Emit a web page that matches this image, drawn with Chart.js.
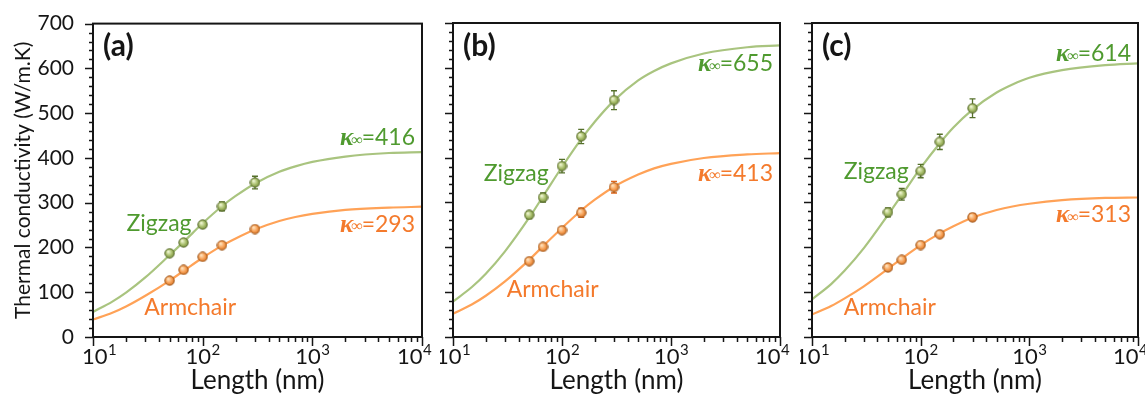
<!DOCTYPE html>
<html>
<head>
<meta charset="utf-8">
<script src="https://cdn.jsdelivr.net/npm/chart.js@4.4.1/dist/chart.umd.min.js"></script>
<style>
  body { margin: 0; background: #fff; }
  canvas { position: absolute; top: 0; }
</style>
</head>
<body>
<canvas id="chartA" width="440" height="394" style="left:0px"></canvas>
<canvas id="chartB" width="360" height="394" style="left:440px"></canvas>
<canvas id="chartC" width="345" height="394" style="left:800px"></canvas>
<script>
// simulated lengths (nm)
const lengths = [50, 67, 100, 150, 300];
const fitLengths = [10, 15, 20, 30, 50, 70, 100, 150, 200, 300, 500, 700, 1000, 2000, 5000, 10000];

// (a)
const zigzagA = [187, 211, 251, 292, 345];
const zigzagErrA = [4, 5, 6, 10, 14];
const armchairA = [126, 150, 179, 205, 241];
const armchairErrA = [3, 3, 4, 5, 6];
const zigzagFitA = [56, 79, 99, 133, 183, 217, 254, 292, 315, 343, 369, 381, 391, 403, 411, 413];
const armchairFitA = [39, 54, 68, 92, 126, 151, 177, 204, 220, 240, 259, 268, 275, 284, 289, 291];
const kappaA = [416, 293];

// (b)
const zigzagB = [272, 311, 381, 447, 528];
const zigzagErrB = [8, 10, 15, 16, 21];
const armchairB = [169, 201, 238, 277, 334];
const armchairErrB = [4, 4, 5, 10, 13];
const zigzagFitB = [79, 112, 141, 191, 266, 321, 379, 441, 480, 527, 572, 593, 610, 632, 646, 650];
const armchairFitB = [52, 73, 92, 124, 172, 207, 243, 282, 306, 335, 362, 376, 386, 399, 407, 410];
const kappaB = [655, 413];

// (c)
const zigzagC = [278, 318, 370, 435, 510];
const zigzagErrC = [10, 13, 15, 17, 21];
const armchairC = [155, 172, 205, 229, 267];
const armchairErrC = [4, 4, 5, 5, 8];
const zigzagFitC = [84, 118, 148, 198, 272, 323, 377, 432, 467, 507, 545, 563, 578, 595, 606, 610];
const armchairFitC = [50, 69, 86, 113, 152, 178, 205, 231, 247, 266, 283, 291, 297, 305, 310, 311];
const kappaC = [614, 313];

const xTickValues = [10, 100, 1000, 10000];
const xTickExponents = ["1", "2", "3", "4"];

const zigLine = "#a9c47f", armLine = "#ffa257";
const zigText = "#4f9a2f", armText = "#f47a2c";
const ink = "#151515";

function sphere(light, mid, dark, edge) {
  const c = document.createElement("canvas");
  c.width = 11; c.height = 11;
  const g = c.getContext("2d");
  const grad = g.createRadialGradient(4, 3.8, 0.5, 5.5, 5.5, 5.2);
  grad.addColorStop(0, light);
  grad.addColorStop(0.55, mid);
  grad.addColorStop(1, dark);
  g.fillStyle = grad;
  g.beginPath(); g.arc(5.5, 5.5, 4.7, 0, Math.PI * 2); g.fill();
  g.strokeStyle = edge; g.lineWidth = 0.9; g.stroke();
  return c;
}
const zigBall = sphere("#eef5d0", "#a7bd6a", "#6d8436", "#56692a");
const armBall = sphere("#ffe2bd", "#f7a055", "#c8681c", "#9a5014");

function pairs(xs, ys) {
  return xs.map((x, i) => ({ x: x, y: ys[i] }));
}

function drawKappa(ctx, xRight, y, value, color) {
  ctx.save();
  ctx.fillStyle = color;
  ctx.textBaseline = "middle";
  ctx.textAlign = "right";
  ctx.font = "23px Lato";
  const tail = "=" + value;
  ctx.fillText(tail, xRight, y);
  let x = xRight - ctx.measureText(tail).width;
  ctx.font = "italic 16px 'Liberation Serif'";
  ctx.fillText("\u221e", x + 1, y + 3);
  x -= ctx.measureText("\u221e").width;
  ctx.font = "italic bold 25px 'Liberation Serif'";
  ctx.fillText("\u03ba", x + 3, y + 1);
  ctx.restore();
}

const panelPlugin = {
  id: "panel",
  afterDatasetDraw(chart, args, opts) {
    // error bars go over the curves but under the markers
    if (args.index !== 2) return;
    const ctx = chart.ctx, xs = chart.scales.x, ys = chart.scales.y;
    const sets = [[opts.zig, opts.zigErr, "#55702a"], [opts.arm, opts.armErr, "#e0661a"]];
    ctx.save();
    ctx.lineWidth = 1.3;
    sets.forEach(([vals, errs, col]) => {
      ctx.strokeStyle = col;
      lengths.forEach((L, i) => {
        const px = xs.getPixelForValue(L);
        const top = ys.getPixelForValue(vals[i] + errs[i]);
        const bot = ys.getPixelForValue(vals[i] - errs[i]);
        ctx.beginPath();
        ctx.moveTo(px, top); ctx.lineTo(px, bot);
        ctx.moveTo(px - 3, top); ctx.lineTo(px + 3, top);
        ctx.moveTo(px - 3, bot); ctx.lineTo(px + 3, bot);
        ctx.stroke();
      });
    });
    ctx.restore();
  },
  afterDraw(chart, args, opts) {
    const ctx = chart.ctx, a = chart.chartArea;
    const xs = chart.scales.x, ys = chart.scales.y;
    ctx.save();
    ctx.strokeStyle = ink;
    ctx.lineWidth = 2;
    ctx.strokeRect(a.left, a.top, a.right - a.left, a.bottom - a.top);

    // y ticks, outward
    ctx.lineWidth = 1.5;
    ctx.beginPath();
    for (let v = 0; v <= 700; v += 20) {
      const py = Math.round(ys.getPixelForValue(v)) + 0.5;
      const len = v % 100 === 0 ? 8 : 4;
      ctx.moveTo(a.left, py); ctx.lineTo(a.left - len, py);
    }
    // x ticks, outward
    for (let d = 10; d <= 10000; d *= 10) {
      for (let m = 1; m <= 9; m++) {
        const v = d * m;
        if (v > 10000) break;
        const px = Math.round(xs.getPixelForValue(v)) + 0.5;
        const len = m === 1 ? 9 : 5;
        ctx.moveTo(px, a.bottom); ctx.lineTo(px, a.bottom + len);
      }
    }
    ctx.stroke();

    // x tick labels with superscripts
    ctx.fillStyle = ink;
    ctx.textBaseline = "alphabetic";
    ctx.textAlign = "left";
    xTickValues.forEach((v, i) => {
      ctx.font = "22px Lato";
      const w1 = ctx.measureText("10").width;
      ctx.font = "15px Lato";
      const w2 = ctx.measureText(xTickExponents[i]).width;
      let cx = xs.getPixelForValue(v);
      if (i === 0) cx += opts.firstShift;
      if (i === xTickValues.length - 1) cx -= 8;
      const x0 = cx - (w1 + w2) / 2;
      ctx.font = "22px Lato";
      ctx.fillText("10", x0, a.bottom + 27);
      ctx.font = "15px Lato";
      ctx.fillText(xTickExponents[i], x0 + w1 + 0.5, a.bottom + 18);
    });

    // panel letter
    ctx.font = "bold 30px Lato";
    ctx.textBaseline = "middle";
    ctx.fillText(opts.letter, a.left + 10, a.top + 23);

    // series names
    ctx.font = "23px Lato";
    ctx.textAlign = "center";
    ctx.fillStyle = zigText;
    ctx.fillText("Zigzag", xs.getPixelForValue(opts.zigLabel[0]), ys.getPixelForValue(opts.zigLabel[1]));
    ctx.fillStyle = armText;
    ctx.fillText("Armchair", xs.getPixelForValue(opts.armLabel[0]), ys.getPixelForValue(opts.armLabel[1]));
    ctx.restore();

    drawKappa(ctx, a.right - 7, ys.getPixelForValue(opts.kappaY[0]), opts.kappa[0], zigText);
    drawKappa(ctx, a.right - 7, ys.getPixelForValue(opts.kappaY[1]), opts.kappa[1], armText);
  }
};

function makePanel(id, p) {
  new Chart(document.getElementById(id), {
    type: "scatter",
    data: {
      datasets: [
        { label: "Zigzag", data: pairs(lengths, p.zig), pointStyle: zigBall, pointRadius: 5, showLine: false },
        { label: "Armchair", data: pairs(lengths, p.arm), pointStyle: armBall, pointRadius: 5, showLine: false },
        { label: "Zigzag fit", data: pairs(fitLengths, p.zigFit), showLine: true, pointRadius: 0,
          borderColor: zigLine, borderWidth: 2.2, cubicInterpolationMode: "monotone" },
        { label: "Armchair fit", data: pairs(fitLengths, p.armFit), showLine: true, pointRadius: 0,
          borderColor: armLine, borderWidth: 2.2, cubicInterpolationMode: "monotone" }
      ]
    },
    options: {
      responsive: false,
      animation: false,
      layout: { padding: { top: 23, right: p.padRight, bottom: 0, left: 0 } },
      plugins: {
        legend: { display: false },
        tooltip: { enabled: false },
        panel: p
      },
      scales: {
        x: {
          type: "logarithmic",
          min: 10,
          max: 10000,
          grid: { display: false },
          border: { display: false },
          ticks: { display: false },
          afterBuildTicks: (s) => { s.ticks = xTickValues.map((v) => ({ value: v })); },
          afterFit: (s) => { s.height = 57; },
          title: {
            display: true,
            text: "Length (nm)",
            color: ink,
            font: { family: "Lato", size: 26, lineHeight: 1 },
            padding: { top: 0, bottom: 0 }
          }
        },
        y: {
          min: 0,
          max: 700,
          grid: { display: false },
          border: { display: false },
          ticks: {
            display: p.showY,
            stepSize: 100,
            padding: 11,
            color: ink,
            font: { family: "Lato", size: 21 }
          },
          afterFit: (s) => { s.width = p.axisWidth; },
          title: {
            display: p.showY,
            text: "Thermal conductivity (W/m.K)",
            color: ink,
            font: { family: "Lato", size: 21 },
            padding: { top: 11, bottom: 0 }
          }
        }
      }
    },
    plugins: [panelPlugin]
  });
}

makePanel("chartA", {
  letter: "(a)", zig: zigzagA, zigErr: zigzagErrA, arm: armchairA, armErr: armchairErrA,
  zigFit: zigzagFitA, armFit: armchairFitA, kappa: kappaA,
  kappaY: [445, 252], zigLabel: [40, 254], armLabel: [77, 65],
  showY: true, axisWidth: 93, padRight: 18, firstShift: 6
});
makePanel("chartB", {
  letter: "(b)", zig: zigzagB, zigErr: zigzagErrB, arm: armchairB, armErr: armchairErrB,
  zigFit: zigzagFitB, armFit: armchairFitB, kappa: kappaB,
  kappaY: [610, 365], zigLabel: [38, 365], armLabel: [82, 105],
  showY: false, axisWidth: 13, padRight: 20, firstShift: 0
});
makePanel("chartC", {
  letter: "(c)", zig: zigzagC, zigErr: zigzagErrC, arm: armchairC, armErr: armchairErrC,
  zigFit: zigzagFitC, armFit: armchairFitC, kappa: kappaC,
  kappaY: [632, 272], zigLabel: [39, 368], armLabel: [52, 65],
  showY: false, axisWidth: 12, padRight: 7, firstShift: 0
});
</script>
</body>
</html>
